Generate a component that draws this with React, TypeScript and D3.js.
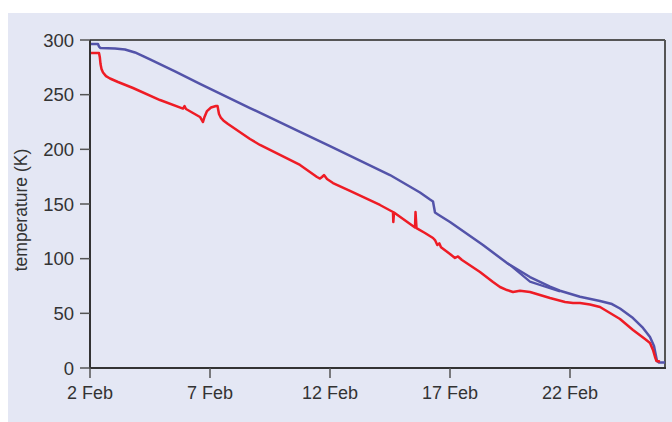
import React from "react";
import * as d3 from "d3";

// x values: days since 2 Feb; y: temperature (K)
const xTickDays = [0, 5, 10, 15, 20];
const xTickLabels = ["2 Feb", "7 Feb", "12 Feb", "17 Feb", "22 Feb"];
const yTicks = [0, 50, 100, 150, 200, 250, 300];

const blueSeries: [number, number][] = [
  [0, 296.3], [0.333, 296.3], [0.375, 294], [0.438, 292.7], [1.042, 292.2],
  [1.458, 291.3], [1.875, 288.6], [2.167, 285.8], [2.5, 282.2], [3.542, 271.2],
  [4.583, 259.8], [6.667, 237.8], [8.75, 215.9], [10, 203], [12.5, 176.5],
  [13.75, 160.5], [14.167, 154.1], [14.292, 152.3], [14.333, 147.3], [14.375, 142.2],
  [14.5, 140.4], [15, 133.5], [16.375, 112.5], [17.375, 96], [18.333, 83.2],
  [19.167, 74.5], [19.583, 70.7], [20.417, 65.2], [21.25, 61.3], [21.75, 58.5],
  [22.083, 54.4], [22.625, 45.7], [23.042, 36.6], [23.333, 28.4], [23.5, 20.1],
  [23.583, 11], [23.625, 6.4], [23.708, 5], [23.958, 5],
];

const blueBranch: [number, number][] = [
  [17.375, 96], [17.583, 92.7], [18.333, 79], [19.167, 72.9], [19.583, 70.1],
];

const redSeries: [number, number][] = [
  [0, 288.1], [0.375, 288.1], [0.408, 284.5], [0.438, 278], [0.479, 273.5],
  [0.542, 270.3], [0.667, 267], [0.833, 264.8], [1.167, 261.6], [1.792, 256.1],
  [2.917, 245.1], [3.875, 237.3], [3.938, 239.6], [4, 236.9], [4.583, 229.6],
  [4.708, 225], [4.771, 229.6], [4.875, 235], [5.042, 238.3], [5.25, 239.6],
  [5.313, 239.6], [5.375, 232.3], [5.458, 228.7], [5.583, 225.9], [5.75, 223.2],
  [6.667, 209.5], [7.083, 204], [8.75, 185.7], [9.458, 174.7], [9.583, 173.3],
  [9.667, 174.7], [9.75, 176.5], [9.875, 172.9], [10.125, 169.2], [10.833, 161.9],
  [12.083, 149.1], [12.625, 142.7], [12.638, 133.5], [12.667, 142.2], [13.542, 128.5],
  [13.563, 142.7], [13.604, 128], [13.958, 123.5], [14.292, 118.9], [14.375, 117],
  [14.471, 112.5], [14.554, 114], [14.625, 110.4], [15, 104.3], [15.208, 100.6],
  [15.333, 102], [15.5, 98.8], [16.25, 87.8], [16.792, 78.7], [17.083, 74.1],
  [17.375, 71.3], [17.625, 69.5], [17.917, 70.7], [18.333, 69.5], [19.167, 64],
  [19.792, 60.4], [20.125, 59.5], [20.417, 59.5], [20.833, 58.1], [21.25, 55.8],
  [21.667, 50.3], [22.083, 44.8], [22.625, 34.8], [23.125, 26.5], [23.333, 22.9],
  [23.458, 16.5], [23.542, 10.1], [23.604, 6.4], [23.75, 5.9],
];

const W = 672;
const H = 422;
const left = 90, right = 665, top = 40, bottom = 368;
const FONT = "'Liberation Sans', Arial, sans-serif";

export default function App() {
  const x = d3.scaleLinear().domain([0, 575 / 24]).range([left, right]);
  const y = d3.scaleLinear().domain([0, 300]).range([bottom, top]);
  const line = d3
    .line<[number, number]>()
    .x((d) => x(d[0]))
    .y((d) => y(d[1]));

  return (
    <svg
      width={W}
      height={H}
      style={{ position: "absolute", left: 0, top: 0 }}
      fontFamily={FONT}
    >
      <rect x={0} y={0} width={W} height={H} fill="#ffffff" />
      <rect x={8} y={13} width={W - 8} height={H - 13} fill="#e4e7f4" />
      <line x1={left} x2={right} y1={top} y2={top} stroke="#555" strokeWidth={2} />
      <line x1={right} x2={right} y1={top} y2={bottom} stroke="#555" strokeWidth={2} />
      <path d={line(blueBranch) || ""} fill="none" stroke="#5353a9" strokeWidth={2.2} strokeLinejoin="round" />
      <path d={line(blueSeries) || ""} fill="none" stroke="#5353a9" strokeWidth={2.5} strokeLinejoin="round" />
      <path d={line(redSeries) || ""} fill="none" stroke="#ee1c25" strokeWidth={2.5} strokeLinejoin="round" />
      <line x1={left} x2={left} y1={top} y2={bottom} stroke="#333" strokeWidth={2} />
      <line x1={left - 1} x2={right + 1} y1={bottom} y2={bottom} stroke="#333" strokeWidth={2} />
      {yTicks.map((t) => (
        <g key={t}>
          <line x1={left - 10} x2={left} y1={y(t)} y2={y(t)} stroke="#555" strokeWidth={1.5} />
          <text
            x={left - 16}
            y={y(t)}
            dy="0.36em"
            textAnchor="end"
            fontSize={18.5}
            fill="#333"
          >
            {t}
          </text>
        </g>
      ))}
      {xTickDays.map((d, i) => (
        <g key={d}>
          <line x1={x(d)} x2={x(d)} y1={bottom} y2={bottom + 10} stroke="#555" strokeWidth={1.5} />
          <text x={x(d)} y={399} textAnchor="middle" fontSize={18} fill="#333">
            {xTickLabels[i]}
          </text>
        </g>
      ))}
      <text
        transform={`translate(27, 210) rotate(-90)`}
        textAnchor="middle"
        fontSize={17.5}
        fill="#333"
      >
        temperature (K)
      </text>
    </svg>
  );
}
